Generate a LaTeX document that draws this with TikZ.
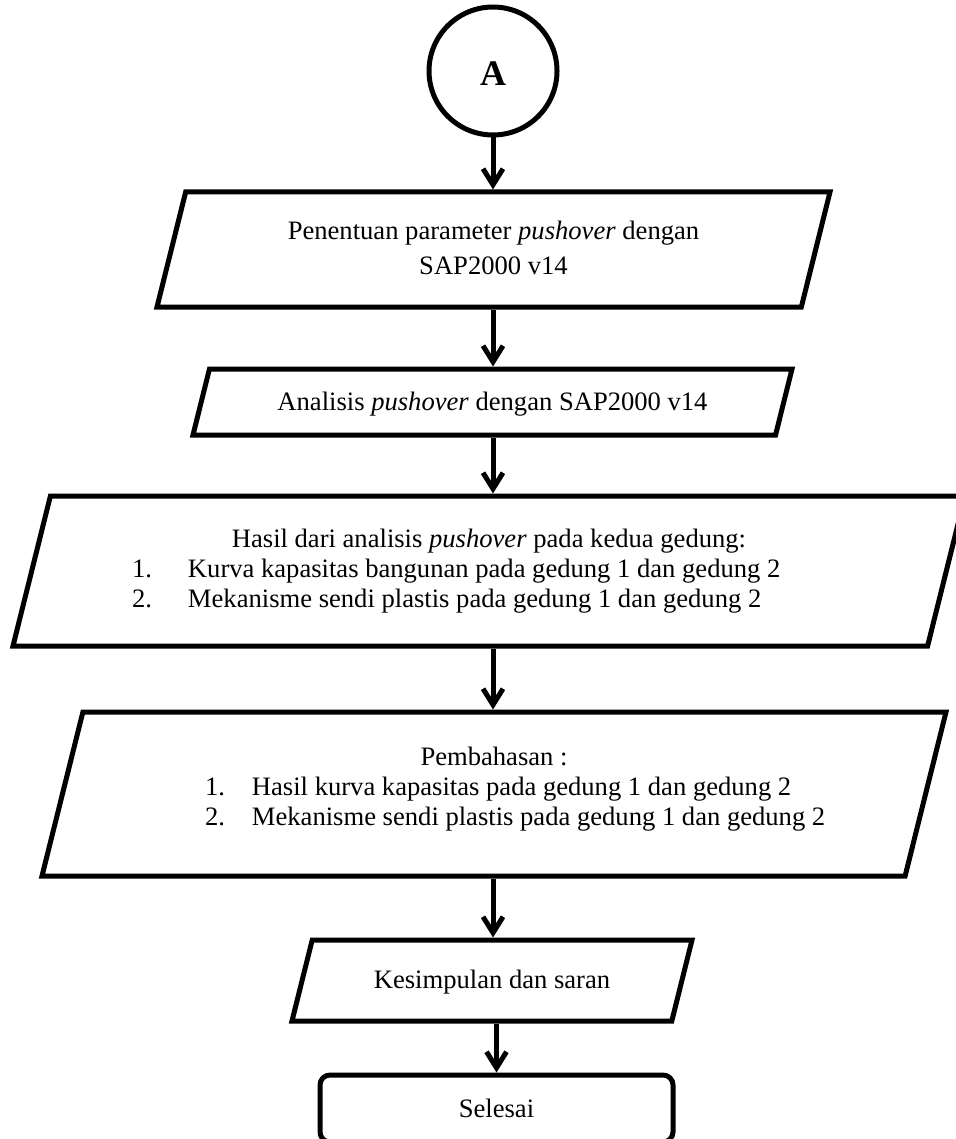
\documentclass[tikz,border=0pt]{standalone}
\usepackage{fontspec}
\setmainfont{Liberation Serif}
\usetikzlibrary{shapes.geometric, arrows.meta}

\begin{document}
\begin{tikzpicture}[x=0.5pt, y=-0.5pt,
	every node/.style={font=\fontsize{13.3}{15}\selectfont},
	io/.style={draw, line width=2.5pt, trapezium, trapezium left angle=76, trapezium right angle=104,
		trapezium stretches=true, trapezium stretches body=true, inner sep=0pt},
	arr/.style={line width=2.5pt, -{Straight Barb[length=8pt,width=10pt]}}]
		\useasboundingbox (0,0) rectangle (956,1139);
		\node[draw, circle, line width=2.5pt, minimum size=64pt, text height=15pt, font=\fontsize{18}{18}\selectfont\bfseries] (A) at (493,71) {A}; %konektor
		\node[io, minimum width=336.5pt, text height=32.75pt, text depth=24.75pt, font=\fontsize{13.3}{17.5}\selectfont] (par) at (493.5,249.5)
			{\begin{tabular}{@{}c@{}}Penentuan parameter \textit{pushover} dengan\\SAP2000 v14\end{tabular}};
		\node[io, minimum width=299.5pt, text height=20.5pt, text depth=12.5pt] (an) at (492.5,402) {Analisis \textit{pushover} dengan SAP2000 v14};
		\node[io, minimum width=476pt, text height=41.5pt, text depth=33.5pt] (hasil) at (489,571)
			{\begin{tabular}{@{}c@{}}
			\makebox[357pt][c]{Hasil dari analisis \textit{pushover} pada kedua gedung:}\\
			\makebox[357pt][l]{\makebox[28pt][l]{1.}Kurva kapasitas bangunan pada gedung 1 dan gedung 2}\\
			\makebox[357pt][l]{\makebox[28pt][l]{2.}Mekanisme sendi plastis pada gedung 1 dan gedung 2}
			\end{tabular}};
		\node[io, minimum width=452pt, text height=42.5pt, text depth=39.5pt] (bahas) at (494,794)
			{\begin{tabular}{@{}c@{}}
			\makebox[289pt][c]{Pembahasan :}\\
			\makebox[289pt][l]{\makebox[23.5pt][l]{1.}Hasil kurva kapasitas pada gedung 1 dan gedung 2}\\
			\makebox[289pt][l]{\makebox[23.5pt][l]{2.}Mekanisme sendi plastis pada gedung 1 dan gedung 2}
			\end{tabular}};
		\node[io, minimum width=200pt, text height=24.25pt, text depth=16.25pt] (kes) at (492,980.5) {Kesimpulan dan saran};
		\node[draw, rounded corners=5pt, line width=2.5pt, minimum width=176.5pt, minimum height=33.5pt] (end) at (496.5,1108.5) {Selesai}; %terminal
		% panah
		\draw[arr] (A) -- (A |- par.north);
		\draw[arr] (A |- par.south) -- (A |- an.north);
		\draw[arr] (A |- an.south) -- (A |- hasil.north);
		\draw[arr] (A |- hasil.south) -- (A |- bahas.north);
		\draw[arr] (A |- bahas.south) -- (A |- kes.north);
		\draw[arr] (end |- kes.south) -- (end);
	\end{tikzpicture}
\end{document}
